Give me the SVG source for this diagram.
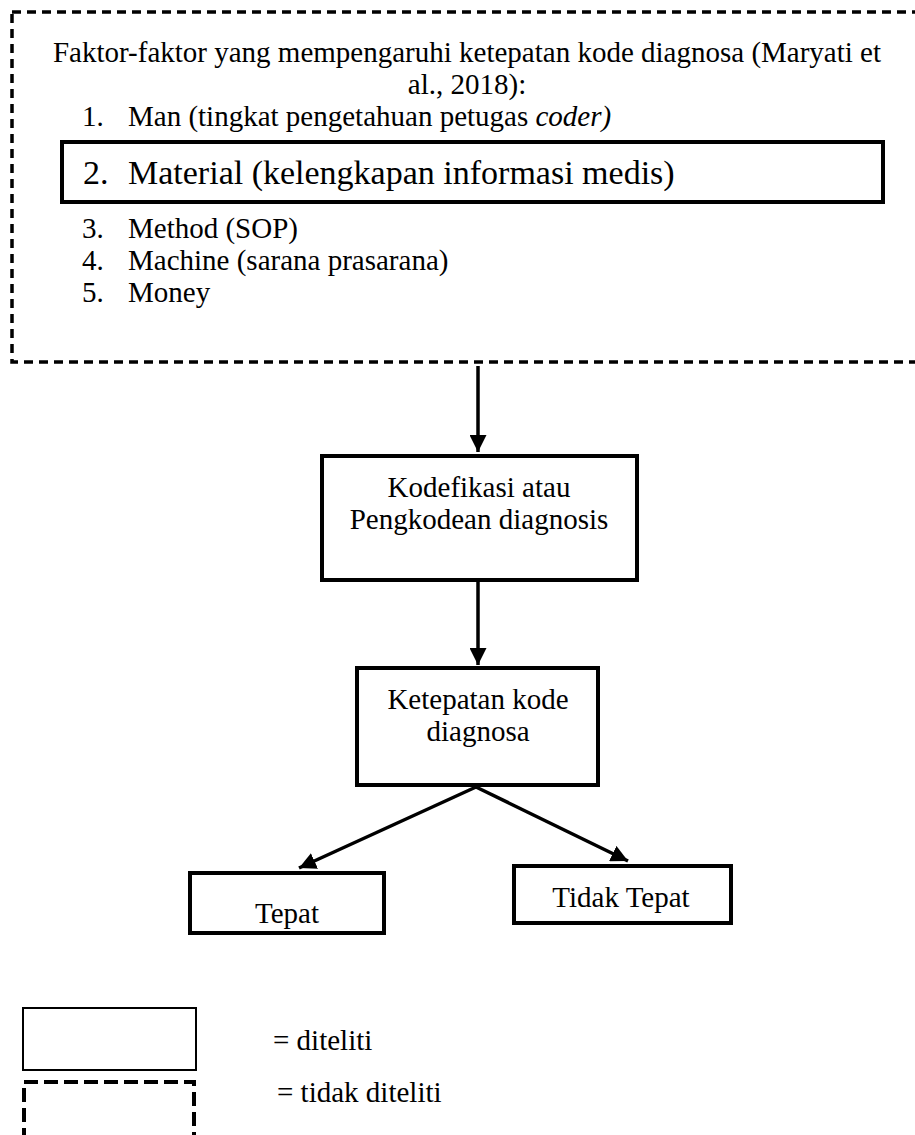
<svg xmlns="http://www.w3.org/2000/svg" width="915" height="1135" viewBox="0 0 915 1135">
<style>
.t{font-size:29px;}
.m{font-size:34px;}
.box{fill:#fff;stroke:#000;stroke-width:4;}
.dash{fill:none;stroke:#000;stroke-width:3.5;stroke-dasharray:9,6;}
.conn{stroke:#000;stroke-width:3.5;fill:none;}
</style>
<defs>
<marker id="ah" markerUnits="userSpaceOnUse" markerWidth="17" markerHeight="17" refX="17" refY="8.5" orient="auto">
<path d="M0,0 L17,8.5 L0,17 Z" fill="#000"/>
</marker>
</defs>
<rect width="915" height="1135" fill="#fff"/>
<g font-family="'Liberation Serif', 'Times New Roman', serif" fill="#000">
<g id="factors">
<rect class="dash" x="12" y="12" width="908" height="350"/>
<text class="t" x="467" y="62" text-anchor="middle">Faktor-faktor yang mempengaruhi ketepatan kode diagnosa (Maryati et</text>
<text class="t" x="467" y="94" text-anchor="middle">al., 2018):</text>
<text class="t" x="82" y="126">1.</text>
<text class="t" x="128" y="126">Man (tingkat pengetahuan petugas <tspan font-style="italic">coder)</tspan></text>
<text class="t" x="82" y="238">3.</text>
<text class="t" x="128" y="238">Method (SOP)</text>
<text class="t" x="82" y="270">4.</text>
<text class="t" x="128" y="270">Machine (sarana prasarana)</text>
<text class="t" x="82" y="302">5.</text>
<text class="t" x="128" y="302">Money</text>
</g>
<g id="material">
<rect class="box" x="62" y="142" width="821" height="60" fill="none"/>
<text class="m" x="83" y="184">2.</text>
<text class="m" x="128" y="184">Material (kelengkapan informasi medis)</text>
</g>
<g id="kodefikasi">
<rect class="box" x="322" y="456" width="315" height="124"/>
<text class="t" x="479" y="497" text-anchor="middle">Kodefikasi atau</text>
<text class="t" x="479" y="529" text-anchor="middle">Pengkodean diagnosis</text>
</g>
<g id="ketepatan">
<rect class="box" x="357" y="668" width="241" height="117"/>
<text class="t" x="478" y="709" text-anchor="middle">Ketepatan kode</text>
<text class="t" x="478" y="741" text-anchor="middle">diagnosa</text>
</g>
<g id="tepat">
<rect class="box" x="190" y="873" width="194" height="60"/>
<text class="t" x="287" y="923" text-anchor="middle">Tepat</text>
</g>
<g id="tidak-tepat">
<rect class="box" x="514" y="866" width="217" height="57"/>
<text class="t" x="621" y="907" text-anchor="middle">Tidak Tepat</text>
</g>
<g id="connectors">
<line class="conn" x1="478" y1="366" x2="478" y2="452" marker-end="url(#ah)"/>
<line class="conn" x1="478" y1="582" x2="478" y2="665" marker-end="url(#ah)"/>
<line class="conn" x1="476" y1="787" x2="299" y2="868" marker-end="url(#ah)"/>
<line class="conn" x1="476" y1="787" x2="628" y2="861" marker-end="url(#ah)"/>
</g>
<g id="legend">
<rect x="23" y="1008" width="173" height="62" fill="none" stroke="#000" stroke-width="2"/>
<text class="t" x="273" y="1050">= diteliti</text>
<rect x="24" y="1082" width="170" height="80" fill="none" stroke="#000" stroke-width="4" stroke-dasharray="14,6"/>
<text class="t" x="277" y="1102">= tidak diteliti</text>
</g>
</g>
</svg>
